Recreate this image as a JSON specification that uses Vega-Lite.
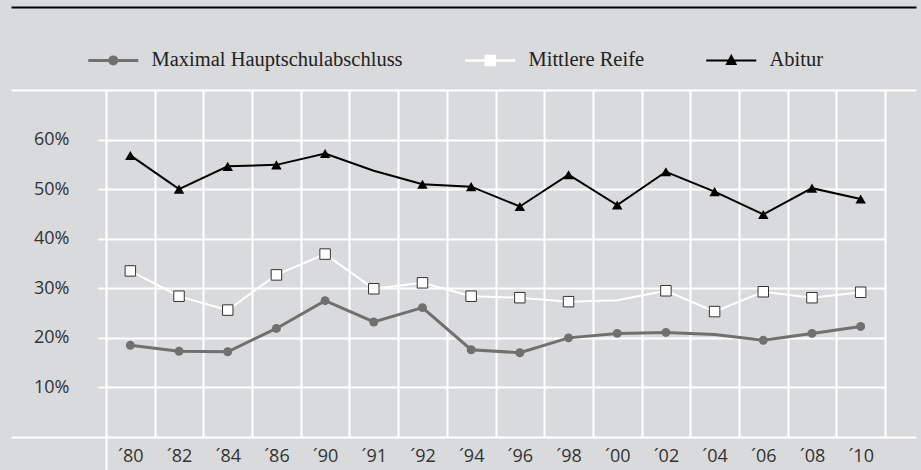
{
  "$schema": "https://vega.github.io/schema/vega-lite/v6.json",
  "padding": {"left": 10, "top": 6, "right": 6, "bottom": 0},
  "background": "#d9dadc",
  "config": {"view": {"stroke": null}, "font": "Open Sans"},
  "width": 779,
  "height": 347,
  "data": {
    "values": [
      {"jahr": "´80", "abschluss": "Maximal Hauptschulabschluss", "anteil": 0.185, "markiert": true},
      {"jahr": "´82", "abschluss": "Maximal Hauptschulabschluss", "anteil": 0.173, "markiert": true},
      {"jahr": "´84", "abschluss": "Maximal Hauptschulabschluss", "anteil": 0.172, "markiert": true},
      {"jahr": "´86", "abschluss": "Maximal Hauptschulabschluss", "anteil": 0.219, "markiert": true},
      {"jahr": "´90", "abschluss": "Maximal Hauptschulabschluss", "anteil": 0.275, "markiert": true},
      {"jahr": "´91", "abschluss": "Maximal Hauptschulabschluss", "anteil": 0.232, "markiert": true},
      {"jahr": "´92", "abschluss": "Maximal Hauptschulabschluss", "anteil": 0.261, "markiert": true},
      {"jahr": "´94", "abschluss": "Maximal Hauptschulabschluss", "anteil": 0.176, "markiert": true},
      {"jahr": "´96", "abschluss": "Maximal Hauptschulabschluss", "anteil": 0.170, "markiert": true},
      {"jahr": "´98", "abschluss": "Maximal Hauptschulabschluss", "anteil": 0.200, "markiert": true},
      {"jahr": "´00", "abschluss": "Maximal Hauptschulabschluss", "anteil": 0.209, "markiert": true},
      {"jahr": "´02", "abschluss": "Maximal Hauptschulabschluss", "anteil": 0.211, "markiert": true},
      {"jahr": "´04", "abschluss": "Maximal Hauptschulabschluss", "anteil": 0.207, "markiert": false},
      {"jahr": "´06", "abschluss": "Maximal Hauptschulabschluss", "anteil": 0.195, "markiert": true},
      {"jahr": "´08", "abschluss": "Maximal Hauptschulabschluss", "anteil": 0.209, "markiert": true},
      {"jahr": "´10", "abschluss": "Maximal Hauptschulabschluss", "anteil": 0.223, "markiert": true},
      {"jahr": "´80", "abschluss": "Mittlere Reife", "anteil": 0.335, "markiert": true},
      {"jahr": "´82", "abschluss": "Mittlere Reife", "anteil": 0.284, "markiert": true},
      {"jahr": "´84", "abschluss": "Mittlere Reife", "anteil": 0.256, "markiert": true},
      {"jahr": "´86", "abschluss": "Mittlere Reife", "anteil": 0.327, "markiert": true},
      {"jahr": "´90", "abschluss": "Mittlere Reife", "anteil": 0.369, "markiert": true},
      {"jahr": "´91", "abschluss": "Mittlere Reife", "anteil": 0.299, "markiert": true},
      {"jahr": "´92", "abschluss": "Mittlere Reife", "anteil": 0.311, "markiert": true},
      {"jahr": "´94", "abschluss": "Mittlere Reife", "anteil": 0.284, "markiert": true},
      {"jahr": "´96", "abschluss": "Mittlere Reife", "anteil": 0.281, "markiert": true},
      {"jahr": "´98", "abschluss": "Mittlere Reife", "anteil": 0.273, "markiert": true},
      {"jahr": "´00", "abschluss": "Mittlere Reife", "anteil": 0.276, "markiert": false},
      {"jahr": "´02", "abschluss": "Mittlere Reife", "anteil": 0.295, "markiert": true},
      {"jahr": "´04", "abschluss": "Mittlere Reife", "anteil": 0.253, "markiert": true},
      {"jahr": "´06", "abschluss": "Mittlere Reife", "anteil": 0.293, "markiert": true},
      {"jahr": "´08", "abschluss": "Mittlere Reife", "anteil": 0.281, "markiert": true},
      {"jahr": "´10", "abschluss": "Mittlere Reife", "anteil": 0.292, "markiert": true},
      {"jahr": "´80", "abschluss": "Abitur", "anteil": 0.568, "markiert": true},
      {"jahr": "´82", "abschluss": "Abitur", "anteil": 0.500, "markiert": true},
      {"jahr": "´84", "abschluss": "Abitur", "anteil": 0.546, "markiert": true},
      {"jahr": "´86", "abschluss": "Abitur", "anteil": 0.549, "markiert": true},
      {"jahr": "´90", "abschluss": "Abitur", "anteil": 0.572, "markiert": true},
      {"jahr": "´91", "abschluss": "Abitur", "anteil": 0.537, "markiert": false},
      {"jahr": "´92", "abschluss": "Abitur", "anteil": 0.510, "markiert": true},
      {"jahr": "´94", "abschluss": "Abitur", "anteil": 0.505, "markiert": true},
      {"jahr": "´96", "abschluss": "Abitur", "anteil": 0.465, "markiert": true},
      {"jahr": "´98", "abschluss": "Abitur", "anteil": 0.529, "markiert": true},
      {"jahr": "´00", "abschluss": "Abitur", "anteil": 0.468, "markiert": true},
      {"jahr": "´02", "abschluss": "Abitur", "anteil": 0.535, "markiert": true},
      {"jahr": "´04", "abschluss": "Abitur", "anteil": 0.495, "markiert": true},
      {"jahr": "´06", "abschluss": "Abitur", "anteil": 0.449, "markiert": true},
      {"jahr": "´08", "abschluss": "Abitur", "anteil": 0.502, "markiert": true},
      {"jahr": "´10", "abschluss": "Abitur", "anteil": 0.480, "markiert": true}
    ]
  },
  "resolve": {"axis": {"y": "independent"}},
  "encoding": {
    "x": {
      "field": "jahr", "type": "nominal",
      "sort": ["´80", "´82", "´84", "´86", "´90", "´91", "´92", "´94", "´96", "´98", "´00", "´02", "´04", "´06", "´08", "´10"],
      "scale": {"type": "band", "paddingInner": 0, "paddingOuter": 0},
      "axis": {
        "title": null, "tickBand": "extent", "domain": false,
        "grid": true, "gridColor": "#ffffff", "gridWidth": 2, "gridOpacity": 1,
        "ticks": true, "tickWidth": 2, "tickColor": "#ffffff",
        "tickSize": {"condition": {"test": "datum.extra", "value": 33}, "value": 0},
        "labelAngle": 0, "labelPadding": 10,
        "labelFont": "Open Sans", "labelFontSize": 18, "labelColor": "#333333"
      }
    },
    "y": {
      "field": "anteil", "type": "quantitative",
      "scale": {"domain": [0, 0.7], "nice": false},
      "axis": null
    }
  },
  "layer": [
    {
      "transform": [{"filter": "datum.abschluss === 'Maximal Hauptschulabschluss'"}],
      "mark": {"type": "line", "color": "#707070", "strokeWidth": 3},
      "encoding": {
        "y": {
          "field": "anteil", "type": "quantitative",
          "scale": {"domain": [0, 0.7], "nice": false},
          "axis": {
            "title": null, "orient": "left",
            "values": [0, 0.1, 0.2, 0.3, 0.4, 0.5, 0.6, 0.7],
            "format": ".0%",
            "labelExpr": "datum.value > 0.05 && datum.value < 0.65 ? datum.label : ''",
            "domain": false, "grid": true, "gridColor": "#ffffff", "gridWidth": 2, "gridOpacity": 1,
            "tickColor": "#ffffff", "tickWidth": 2,
            "tickSize": {"condition": {"test": "datum.value < 0.05 || datum.value > 0.65", "value": 95}, "value": 8},
            "labelPadding": 29,
            "labelFont": "Open Sans", "labelFontSize": 18, "labelColor": "#333333"
          }
        }
      }
    },
    {
      "transform": [{"filter": "datum.abschluss === 'Mittlere Reife'"}],
      "mark": {"type": "line", "color": "#ffffff", "strokeWidth": 2},
      "encoding": {
        "y": {
          "field": "anteil", "type": "quantitative",
          "scale": {"domain": [0, 0.7], "nice": false},
          "axis": {
            "title": null, "orient": "right", "values": [0, 0.7],
            "labels": false, "domain": false, "grid": false,
            "tickColor": "#ffffff", "tickWidth": 2, "tickSize": 31
          }
        }
      }
    },
    {
      "transform": [{"filter": "datum.abschluss === 'Abitur'"}],
      "mark": {"type": "line", "color": "#000000", "strokeWidth": 2},
      "encoding": {
        "y": {
          "field": "anteil", "type": "quantitative",
          "scale": {"domain": [0, 0.7], "nice": false},
          "axis": {
            "title": null, "orient": "left", "values": [0.7], "offset": 95,
            "labels": false, "domain": false, "grid": false,
            "tickColor": "#000000", "tickWidth": 2, "tickSize": -905, "tickOffset": -83
          }
        }
      }
    },
    {
      "transform": [{"filter": "datum.abschluss === 'Maximal Hauptschulabschluss' && datum.markiert"}],
      "mark": {"type": "point", "filled": true, "shape": "circle", "size": 80, "color": "#707070", "opacity": 1}
    },
    {
      "transform": [{"filter": "datum.abschluss === 'Mittlere Reife' && datum.markiert"}],
      "mark": {"type": "point", "filled": true, "shape": "square", "size": 110, "fill": "#ffffff", "stroke": "#333333", "strokeWidth": 1, "opacity": 1}
    },
    {
      "transform": [{"filter": "datum.abschluss === 'Abitur' && datum.markiert"}],
      "mark": {"type": "point", "filled": true, "shape": "triangle-up", "size": 110, "color": "#000000", "opacity": 1}
    },
    {
      "transform": [{"filter": "false"}],
      "mark": {"type": "point", "filled": true},
      "encoding": {
        "shape": {
          "field": "abschluss", "type": "nominal",
          "scale": {
            "domain": ["Maximal Hauptschulabschluss", "Mittlere Reife", "Abitur"],
            "range": [
              "M-5,0H5M-0.7,0A0.7,0.7,0,1,1,0.7,0A0.7,0.7,0,1,1,-0.7,0Z",
              "M-5,0H5M-0.9,-0.9H0.9V0.9H-0.9Z",
              "M-5,0H5M0,-0.9L0.85,0.7H-0.85Z"
            ]
          },
          "legend": {
            "orient": "none", "legendX": -3, "legendY": -40,
            "direction": "horizontal", "columns": 3, "title": null,
            "columnPadding": 57, "labelOffset": 28, "symbolSize": 100,
            "symbolOpacity": 1,
            "labelFont": "Liberation Serif", "labelFontSize": 20.5, "labelColor": "#222222", "labelLimit": 400
          }
        },
        "fill": {
          "field": "abschluss", "type": "nominal",
          "scale": {"domain": ["Maximal Hauptschulabschluss", "Mittlere Reife", "Abitur"], "range": ["#707070", "#ffffff", "#000000"]}
        },
        "stroke": {
          "field": "abschluss", "type": "nominal",
          "scale": {"domain": ["Maximal Hauptschulabschluss", "Mittlere Reife", "Abitur"], "range": ["#707070", "#ffffff", "#000000"]}
        },
        "strokeWidth": {
          "field": "abschluss", "type": "ordinal",
          "scale": {"domain": ["Maximal Hauptschulabschluss", "Mittlere Reife", "Abitur"], "range": [3, 2, 2]}
        }
      }
    }
  ]
}
